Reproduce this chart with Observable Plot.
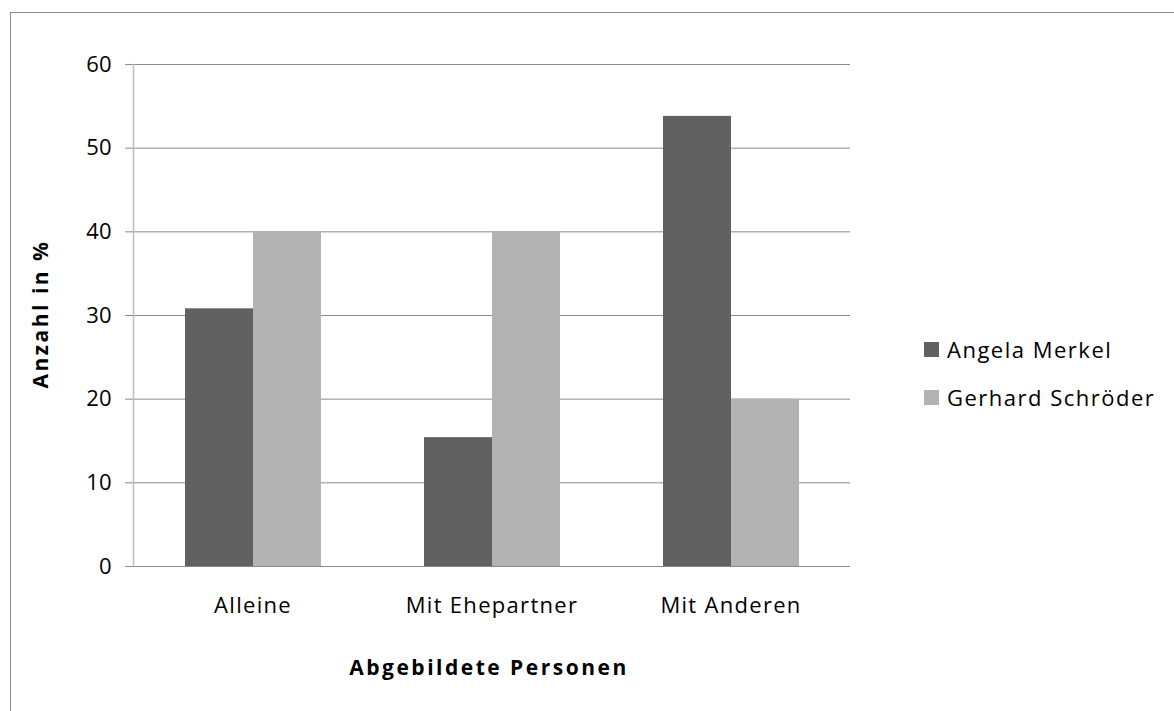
<!DOCTYPE html>
<html>
<head>
<meta charset="utf-8">
<script src="https://cdn.jsdelivr.net/npm/d3@7"></script>
<script src="https://cdn.jsdelivr.net/npm/@observablehq/plot@0.6"></script>
<style>
  html, body { margin: 0; padding: 0; background: #fff; }
  #wrap { position: relative; width: 1174px; height: 711px; overflow: hidden; font-family: "Open Sans", sans-serif; color: #000; }
  #border { position: absolute; left: 10px; top: 12px; right: -10px; bottom: -10px; border-top: 1.5px solid #8c8c8c; border-left: 1.5px solid #8c8c8c; }
  #chart { position: absolute; left: 0; top: 0; }
  #chart g[aria-label="fx-axis tick label"] text { letter-spacing: 1.3px; }
  .title { position: absolute; font-weight: 700; font-size: 21px; letter-spacing: 2.5px; white-space: nowrap; }
  #ytitle { left: 40px; top: 314px; transform: translate(-50%, -50%) rotate(-90deg); }
  #xtitle { left: 489px; top: 667px; transform: translate(-50%, -50%); }
  #legend { position: absolute; left: 924px; top: 333px; font-size: 22px; letter-spacing: 1.5px; }
  .item { display: flex; align-items: center; height: 32px; margin-bottom: 16px; white-space: nowrap; }
  .swatch { width: 15px; height: 15px; margin-right: 8px; flex: none; }
</style>
</head>
<body>
<div id="wrap">
  <div id="border"></div>
  <div id="chart"></div>
  <div id="ytitle" class="title"></div>
  <div id="xtitle" class="title"></div>
  <div id="legend"></div>
</div>
<script>
// Share of photos by who else is pictured, per politician (%)
const categories = ["Alleine", "Mit Ehepartner", "Mit Anderen"];
const people = ["Angela Merkel", "Gerhard Schröder"];
const merkel = [30.8, 15.4, 53.8];
const schroeder = [40, 40, 20];
const yTicks = [0, 10, 20, 30, 40, 50, 60];
const colors = ["#616161", "#b3b3b3"];
const yTitle = "Anzahl in %";
const xTitle = "Abgebildete Personen";

const rows = categories.flatMap((c, i) => [
  {category: c, person: people[0], value: merkel[i]},
  {category: c, person: people[1], value: schroeder[i]}
]);

const chart = Plot.plot({
  width: 1174,
  height: 711,
  marginLeft: 132,
  marginRight: 324,
  marginTop: 64,
  marginBottom: 145,
  style: {fontFamily: "Open Sans, sans-serif", fontSize: "22px", color: "#000", background: "transparent"},
  fx: {domain: categories, padding: 0, label: null, axis: null},
  x: {domain: people, paddingInner: 0, paddingOuter: 0.734, axis: null},
  y: {domain: [0, 60], ticks: yTicks, label: null, axis: null},
  color: {domain: people, range: colors},
  marks: [
    Plot.ruleY(yTicks, {stroke: "#8a8a8a", strokeWidth: 1}),
    Plot.barY(rows, {fx: "category", x: "person", y: "value", fill: "person"}),
    Plot.axisY({ticks: yTicks, tickSize: 8, tickPadding: 14, stroke: "#8a8a8a", fontSize: 22, label: null}),
    Plot.axisFx({anchor: "bottom", tickSize: 0, tickPadding: 31, fontSize: 22, label: null}),
    Plot.frame({anchor: "left", stroke: "#bdbdbd", strokeWidth: 1.5, facetAnchor: "left"})
  ]
});
document.getElementById("chart").appendChild(chart);

document.getElementById("ytitle").textContent = yTitle;
document.getElementById("xtitle").textContent = xTitle;

const legend = document.getElementById("legend");
people.forEach((p, i) => {
  const item = document.createElement("div");
  item.className = "item";
  const sw = document.createElement("span");
  sw.className = "swatch";
  sw.style.background = colors[i];
  const label = document.createElement("span");
  label.textContent = p;
  item.appendChild(sw);
  item.appendChild(label);
  legend.appendChild(item);
});
</script>
</body>
</html>
